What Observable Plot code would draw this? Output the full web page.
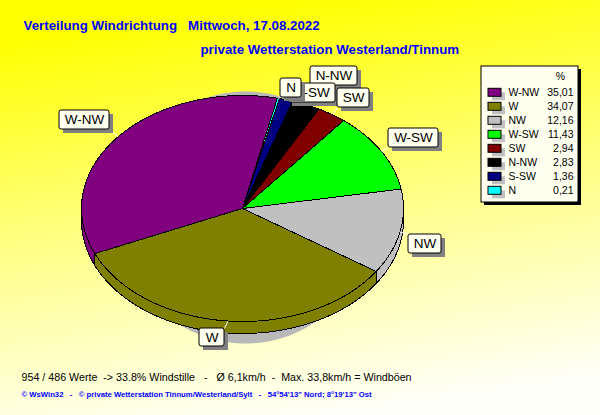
<!DOCTYPE html>
<html><head><meta charset="utf-8">
<script src="https://cdn.jsdelivr.net/npm/d3@7"></script>
<script src="https://cdn.jsdelivr.net/npm/@observablehq/plot@0.6"></script>
<style>
html,body{margin:0;padding:0;background:#fffffa}
svg text{white-space:pre}
</style></head><body><div id="chart"></div>
<script>
const categories = ["W-NW","W","NW","W-SW","SW","N-NW","S-SW","N"];
const shares = [35.01,34.07,12.16,11.43,2.94,2.83,1.36,0.21];
const shareLabels = ["35,01","34,07","12,16","11,43","2,94","2,83","1,36","0,21"];
const colors = ["#800080","#808000","#c0c0c0","#00ff00","#800000","#000000","#000080","#00ffff"];
const titleLine1 = "Verteilung Windrichtung   Mittwoch, 17.08.2022";
const titleLine2 = "private Wetterstation Westerland/Tinnum";
const footLine1 = "954 / 486 Werte  -> 33.8% Windstille   -   Ø 6,1km/h  -  Max. 33,8km/h = Windböen";
const footLine2 = "© WsWin32   -   © private Wetterstation Tinnum/Westerland/Sylt   -   54°54'13\" Nord; 8°19'13\" Ost";

// layout
const W = 600, H = 415;
const pie = {cx:242, cy:208, rx:161, ry:113, depth:12, start:12.5};
const shadow = {cx:245, cy:217, rx:125, ry:126};
const calloutBoxes = [
  {c:"W-NW", x1:59,  y1:110, x2:109, y2:129},
  {c:"W",    x1:199, y1:328, x2:224, y2:346},
  {c:"NW",   x1:408, y1:234, x2:441, y2:253},
  {c:"W-SW", x1:388, y1:128, x2:438, y2:147},
  {c:"N-NW", x1:310, y1:66,  x2:357, y2:85},
  {c:"S-SW", x1:288, y1:83,  x2:335, y2:102},
  {c:"SW",   x1:337, y1:88,  x2:369, y2:107},
  {c:"N",    x1:280, y1:78,  x2:301, y2:97}
];
const legendBox = {x1:481, y1:66, x2:578, y2:202};
const rowY = i => 92.3 + i * 14;

const rad = d => d * Math.PI / 180;
const px = (t, e = pie) => e.cx + e.rx * Math.sin(rad(t));
const py = (t, e = pie) => e.cy - e.ry * Math.cos(rad(t));

const total = d3.sum(shares);
let cursor = pie.start;
const slices = categories.map((c, i) => {
  const hi = cursor, lo = cursor - shares[i] * 360 / total;
  cursor = lo;
  return {c, lo, hi, mid:(lo + hi) / 2};
});
const arc = (a, b) => {
  const n = Math.max(2, Math.ceil(b - a) + 1);
  return d3.range(n).map(k => a + (b - a) * k / (n - 1));
};
const facePoints = slices.flatMap(s => [
  {c:s.c, x:pie.cx, y:pie.cy},
  ...arc(s.lo, s.hi).map(t => ({c:s.c, x:px(t), y:py(t)}))
]);
const sidePoints = slices.flatMap(s => {
  const out = [];
  for (const [v0, v1] of [[90,270],[-270,-90]]) {
    const a = Math.max(s.lo, v0), b = Math.min(s.hi, v1);
    if (a < b) {
      const ts = arc(a, b), key = s.c + v0;
      out.push(...ts.map(t => ({c:s.c, key, x:px(t), y:py(t)})));
      out.push(...ts.slice().reverse().map(t => ({c:s.c, key, x:px(t), y:py(t) + pie.depth})));
    }
  }
  return out;
});
const shadowPoints = arc(0, 360).map(t => ({x:px(t, shadow), y:py(t, shadow)}));
const tethers = calloutBoxes.map(b => {
  const s = slices.find(d => d.c === b.c), x1 = px(s.mid), y1 = py(s.mid);
  return {x1, y1, x2:Math.max(b.x1, Math.min(b.x2, x1)), y2:Math.max(b.y1, Math.min(b.y2, y1))};
});
const legendRows = categories.map((c, i) => ({c, y:rowY(i), v:shareLabels[i]}));
const sans = "'Liberation Sans',Arial,sans-serif";

const calloutMarks = calloutBoxes.flatMap(b => [
  Plot.rect([b], {x1:d => d.x1 + 4, x2:d => d.x2 + 4, y1:d => d.y1 + 4, y2:d => d.y2 + 4, fill:"#808080"}),
  Plot.rect([b], {x1:"x1", x2:"x2", y1:"y1", y2:"y2", fill:"#fffff0", stroke:"#000", strokeWidth:1, rx:2}),
  Plot.text([b], {x:d => (d.x1 + d.x2) / 2, y:d => (d.y1 + d.y2) / 2, text:"c", fontSize:13.5, fontFamily:sans, fill:"#000"})
]);

const chart = Plot.plot({
  width:W, height:H, margin:0,
  x:{domain:[0,W], range:[0,W], axis:null},
  y:{domain:[0,H], range:[0,H], axis:null},
  color:{domain:categories, range:colors},
  style:{background:"linear-gradient(172deg,#ffff00 0%,#ffff00 8%,#ffff80 48%,#fffff8 92%,#fffffa 100%)", display:"block"},
  marks:[
    Plot.text([titleLine1], {x:23, y:25, text:d => d, textAnchor:"start", fontSize:13.3, fontWeight:"bold", fontFamily:sans, fill:"#0000ff"}),
    Plot.text([titleLine2], {x:200, y:49, text:d => d, textAnchor:"start", fontSize:13.3, fontWeight:"bold", fontFamily:sans, fill:"#0000ff"}),
    Plot.line(shadowPoints, {x:"x", y:"y", fill:"#b8b8b8", stroke:"none"}),
    Plot.line(sidePoints, {x:"x", y:"y", z:"key", fill:"c", stroke:"#000", strokeWidth:1, curve:"linear-closed", shapeRendering:"crispEdges"}),
    Plot.line(facePoints, {x:"x", y:"y", z:"c", fill:"c", stroke:"#000", strokeWidth:1, curve:"linear-closed", shapeRendering:"crispEdges"}),
    Plot.link(tethers, {x1:"x1", y1:"y1", x2:"x2", y2:"y2", stroke:"#fff", strokeWidth:1}),
    ...calloutMarks,
    Plot.rect([legendBox], {x1:d => d.x1 + 3, x2:d => d.x2 + 3, y1:d => d.y1 + 3, y2:d => d.y2 + 3, fill:"#000"}),
    Plot.rect([legendBox], {x1:"x1", x2:"x2", y1:"y1", y2:"y2", fill:"#fffff0", stroke:"#000", strokeWidth:1}),
    Plot.text(["%"], {x:560, y:76, text:d => d, fontSize:10.5, fontFamily:sans, fill:"#000"}),
    Plot.rect(legendRows, {x1:() => 492, x2:() => 505, y1:d => d.y, y2:d => d.y + 8, fill:"#c0c0c0"}),
    Plot.rect(legendRows, {x1:() => 488, x2:() => 501, y1:d => d.y - 4, y2:d => d.y + 4, fill:"c", stroke:"#000", strokeWidth:1}),
    Plot.text(legendRows, {x:() => 508, y:"y", text:"c", textAnchor:"start", fontSize:10.5, fontFamily:sans, fill:"#000"}),
    Plot.text(legendRows, {x:() => 573, y:"y", text:"v", textAnchor:"end", fontSize:10.5, fontFamily:sans, fill:"#000"}),
    Plot.text([footLine1], {x:21, y:377, text:d => d, textAnchor:"start", fontSize:10.7, fontFamily:sans, fill:"#000"}),
    Plot.text([footLine2], {x:21, y:394, text:d => d, textAnchor:"start", fontSize:7.7, fontWeight:"bold", fontFamily:sans, fill:"#0000ff"})
  ]
});
document.getElementById("chart").append(chart);
</script></body></html>
